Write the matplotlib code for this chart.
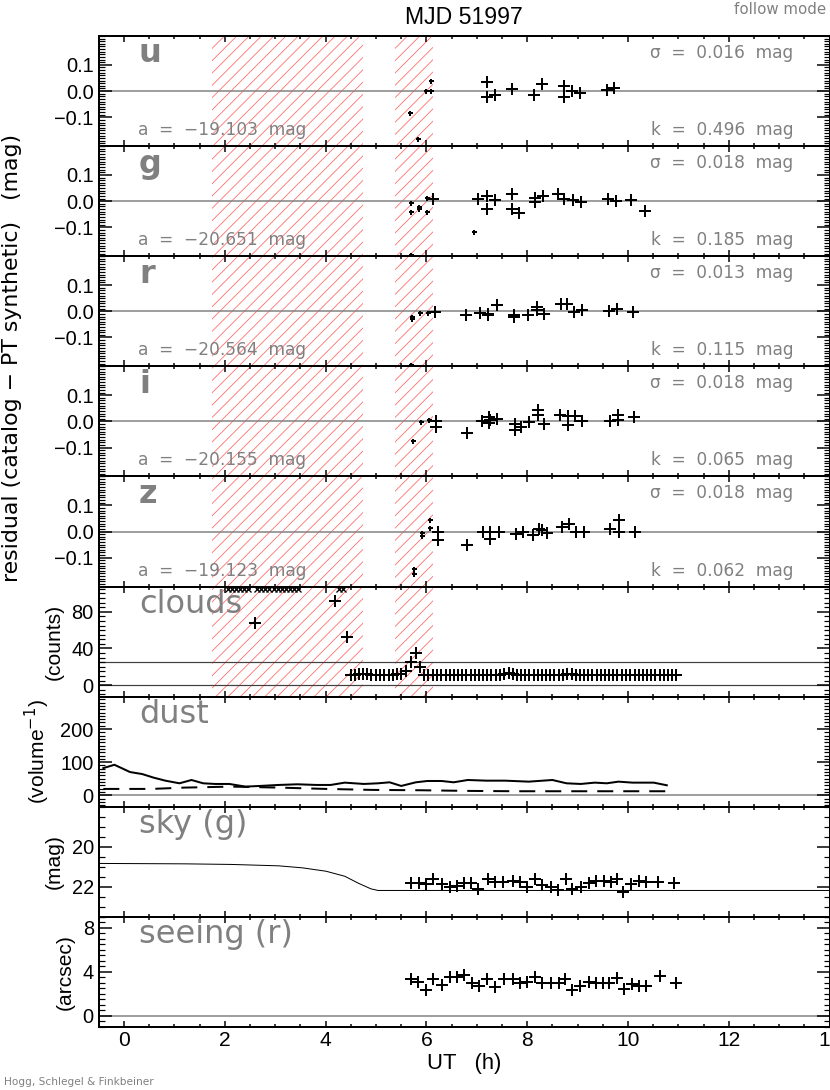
import matplotlib

matplotlib.use("Agg")
import matplotlib.pyplot as plt
import numpy as np
from matplotlib.collections import LineCollection
from matplotlib.patches import Rectangle
from matplotlib.ticker import FixedLocator, MultipleLocator

plt.rcParams["font.family"] = ["Liberation Sans", "DejaVu Sans"]
plt.rcParams["axes.unicode_minus"] = True

GRAY = "#808080"
HATCH = "#ff6a6a"

# bad-weather (hatched) intervals, UT hours
bad_spans = [(1.75, 4.75), (5.38, 6.13)]

# photometric residuals per band
bands = ["u", "g", "r", "i", "z"]
a_vals = ["\u221219.103", "\u221220.651", "\u221220.564", "\u221220.155", "\u221219.123"]
sigma_vals = ["0.016", "0.018", "0.013", "0.018", "0.018"]
k_vals = ["0.496", "0.185", "0.115", "0.065", "0.062"]

u_t = [7.20, 7.20, 7.37, 7.69, 8.14, 8.30, 8.73, 8.73, 8.88, 9.05, 9.59, 9.72]
u_v = [0.035, -0.024, -0.014, 0.006, -0.014, 0.026, 0.019, -0.021, 0.001, -0.009, 0.004, 0.010]
u_bad_t = [5.67, 5.83, 5.99, 6.10, 6.10]
u_bad_v = [-0.082, -0.181, 0.0, 0.0, 0.039]

g_t = [6.13, 7.03, 7.20, 7.20, 7.37, 7.70, 7.70, 7.84, 8.16, 8.16, 8.31, 8.62, 8.73, 8.90,
       9.06, 9.61, 9.76, 10.05, 10.33]
g_v = [0.010, 0.0075, 0.020, -0.030, 0.004, 0.029, -0.028, -0.044, -0.005, 0.013, 0.019,
       0.026, 0.010, 0.003, -0.003, 0.0075, 0.0, 0.004, -0.038]
g_bad_t = [5.70, 5.70, 5.86, 5.86, 6.02, 6.02, 6.94, 5.70]
g_bad_v = [-0.006, -0.040, -0.021, -0.031, -0.040, 0.013, -0.116, -0.205]

r_t = [6.17, 6.79, 7.06, 7.23, 7.23, 7.41, 7.74, 7.74, 8.01, 8.19, 8.19, 8.33, 8.68, 8.78,
       8.92, 9.08, 9.62, 9.79, 10.09]
r_v = [-0.004, -0.013, -0.006, -0.009, -0.015, 0.023, -0.015, -0.020, -0.013, 0.016, 0.006,
       -0.011, 0.029, 0.026, -0.003, 0.004, 0.001, 0.010, -0.004]
r_bad_t = [5.71, 5.71, 5.87, 6.03, 5.70]
r_bad_v = [-0.021, -0.031, -0.006, -0.006, -0.205]

i_t = [6.19, 6.19, 6.80, 7.10, 7.24, 7.24, 7.27, 7.41, 7.76, 7.76, 7.88, 8.04, 8.22, 8.22,
       8.34, 8.66, 8.80, 8.80, 8.94, 9.09, 9.64, 9.80, 9.80, 10.11]
i_v = [0.0, -0.021, -0.044, 0.0, 0.016, -0.005, 0.004, 0.010, -0.009, -0.031, -0.021, -0.003,
       0.044, 0.026, -0.011, 0.026, 0.020, -0.015, 0.020, 0.001, 0.0, 0.025, 0.006, 0.016]
i_bad_t = [5.74, 5.89, 6.06]
i_bad_v = [-0.075, -0.003, 0.006]

z_t = [6.24, 6.24, 6.81, 7.13, 7.26, 7.27, 7.44, 7.77, 7.91, 8.11, 8.24, 8.29, 8.39, 8.70,
       8.83, 8.96, 9.13, 9.64, 9.82, 9.82, 10.14]
z_v = [0.0, -0.034, -0.053, -0.003, -0.003, -0.030, -0.003, -0.009, 0.0, -0.015, 0.010, 0.004,
       -0.005, 0.016, 0.029, 0.0, 0.0, 0.010, 0.044, -0.003, 0.0]
z_bad_t = [5.91, 5.91, 6.07, 6.07, 5.76, 5.76]
z_bad_v = [-0.006, -0.019, 0.044, 0.014, -0.142, -0.162]

# clouds (counts); saturated readings sit above the axis top
cloud_sat_t = [2.06, 2.14, 2.22, 2.30, 2.38, 2.47, 2.64, 2.72, 2.80, 2.88, 2.97, 3.05, 3.13,
               3.21, 3.30, 3.38, 3.46, 4.27, 4.34]
cloud_sat_v = [105] * len(cloud_sat_t)
cloud_t = [2.59, 4.19, 4.42,
           4.50, 4.58, 4.66, 4.75, 4.83, 4.91, 5.00, 5.08, 5.16, 5.25, 5.33, 5.41, 5.50,
           5.60, 5.69, 5.79, 5.87,
           5.96, 6.04, 6.13, 6.21, 6.29, 6.38, 6.46, 6.54, 6.63, 6.71, 6.79, 6.88, 6.96,
           7.04, 7.13, 7.21, 7.29, 7.38, 7.46, 7.54, 7.63, 7.71, 7.79, 7.88, 7.96, 8.04,
           8.13, 8.21, 8.29, 8.38, 8.46, 8.54, 8.63, 8.71, 8.79, 8.88, 8.96, 9.04, 9.13,
           9.21, 9.29, 9.38, 9.46, 9.54, 9.63, 9.71, 9.79, 9.88, 9.96, 10.04, 10.13, 10.21,
           10.29, 10.38, 10.46, 10.54, 10.63, 10.71, 10.79, 10.88, 10.96]
cloud_v = [67.6, 92, 52,
           11, 11, 12, 12, 12, 11, 11, 11, 11, 11, 11, 12, 12,
           15.7, 25.6, 35.6, 20,
           11, 11, 11, 11, 11, 11, 11, 11, 11, 11, 11, 11, 11,
           11, 11, 11, 11, 11, 11, 12, 13.5, 12, 11, 11, 11, 11,
           11, 11, 11, 11, 11, 11, 11, 11, 12, 12.5, 11, 11, 11,
           11, 11, 11, 11, 11, 11, 11, 11, 11, 11, 11, 11, 11,
           11, 11, 11, 11, 11, 11, 11, 11, 11]
cloud_lines = [0, 25]

# dust (per volume)
dust_t = [-0.41, -0.19, 0.12, 0.36, 0.59, 0.82, 1.10, 1.34, 1.57, 1.81, 2.09, 2.41, 2.70,
          3.07, 3.44, 3.82, 4.10, 4.38, 4.76, 5.04, 5.27, 5.50, 5.79, 6.02, 6.30, 6.54,
          6.82, 7.19, 7.56, 8.03, 8.50, 8.78, 9.06, 9.34, 9.58, 9.81, 10.09, 10.51, 10.77]
dust_v = [82, 92, 70, 64, 53, 44, 36, 46, 36, 34, 34, 26, 28, 31, 33, 31, 31, 38, 34, 36,
          39, 28, 39, 43, 43, 39, 46, 44, 44, 41, 46, 36, 34, 38, 36, 41, 38, 38, 30]
dust2_t = [-0.41, 0.55, 1.20, 2.13, 3.07, 4.01, 4.94, 5.88, 6.82, 7.75, 8.69, 9.62, 10.77]
dust2_v = [19, 19, 23, 26, 23, 19, 16, 15, 13, 12, 12, 12, 12]

# sky brightness, g band (mag)
sky_model_t = [-0.5, 1.20, 2.13, 3.07, 3.54, 4.01, 4.38, 4.66, 4.90, 5.04, 14.0]
sky_model_v = [20.83, 20.85, 20.88, 20.95, 21.05, 21.22, 21.47, 21.83, 22.10, 22.18, 22.18]
sky_t = [5.69, 5.85, 6.00, 6.14, 6.30, 6.46, 6.61, 6.75, 6.89, 7.03, 7.22, 7.36, 7.52, 7.71,
         7.85, 7.99, 8.15, 8.30, 8.47, 8.62, 8.76, 8.89, 9.06, 9.22, 9.37, 9.53, 9.67, 9.79,
         9.91, 10.05, 10.21, 10.35, 10.59, 10.92]
sky_v = [21.83, 21.83, 21.86, 21.61, 21.86, 22.03, 21.94, 21.83, 21.83, 22.13, 21.61, 21.78,
         21.78, 21.69, 21.78, 22.03, 21.61, 21.91, 22.03, 22.17, 21.61, 22.13, 22.03, 21.83,
         21.69, 21.69, 21.78, 21.61, 22.25, 21.86, 21.69, 21.74, 21.74, 21.83]

# seeing, r band (arcsec)
see_t = [5.70, 5.84, 6.00, 6.14, 6.30, 6.47, 6.61, 6.75, 6.91, 7.05, 7.20, 7.36, 7.53, 7.71,
         7.85, 7.99, 8.16, 8.30, 8.47, 8.63, 8.75, 8.89, 9.04, 9.22, 9.36, 9.50, 9.62, 9.78,
         9.92, 10.07, 10.21, 10.35, 10.64, 10.95]
see_v = [3.36, 3.12, 2.36, 3.36, 2.82, 3.58, 3.58, 3.73, 3.03, 2.73, 3.36, 2.60, 3.36, 3.36,
         3.03, 3.12, 3.58, 2.97, 2.97, 2.97, 3.33, 2.36, 2.73, 3.06, 3.03, 3.03, 3.03, 3.42,
         2.42, 2.88, 2.73, 2.73, 3.64, 2.97]

resid = {
    "u": (u_t, u_v, u_bad_t, u_bad_v),
    "g": (g_t, g_v, g_bad_t, g_bad_v),
    "r": (r_t, r_v, r_bad_t, r_bad_v),
    "i": (i_t, i_v, i_bad_t, i_bad_v),
    "z": (z_t, z_v, z_bad_t, z_bad_v),
}

W, H = 830, 1090
XLIM = (-0.5, 14)
fig = plt.figure(figsize=(W / 72, H / 72), dpi=72)

left_px, right_px = 98.8, 829.6
top_px, bot_px = 36, 1027
panel_h = (bot_px - top_px) / 9


def make_axes(k):
    y_top = top_px + k * panel_h
    return fig.add_axes([left_px / W, 1 - (y_top + panel_h) / H,
                         (right_px - left_px) / W, panel_h / H])


def style(ax, last=False):
    ax.set_xlim(*XLIM)
    ax.xaxis.set_major_locator(MultipleLocator(2))
    ax.xaxis.set_minor_locator(MultipleLocator(0.5))
    ax.tick_params(which="both", direction="in", top=True, right=True, width=1.5,
                   labelsize=21, colors="black")
    ax.tick_params(axis="x", which="major", length=6)
    ax.tick_params(axis="x", which="minor", length=3)
    ax.tick_params(axis="y", which="major", length=13)
    ax.tick_params(axis="y", which="minor", length=6, width=1.2)
    ax.tick_params(axis="y", labelsize=20, pad=5)
    for sp in ax.spines.values():
        sp.set_linewidth(2)
    if not last:
        ax.tick_params(axis="x", labelbottom=False)
    ax.set_facecolor("none")


def label(ax, text, bold=False):
    ax.text(0.055, 0.76, text, transform=ax.transAxes, ha="left", va="baseline",
            fontsize=32, color=GRAY, family="DejaVu Sans",
            weight="bold" if bold else "normal")


# hatching for the bad-weather spans, drawn in figure pixels so it runs
# continuously through the residual and cloud panels
hax = fig.add_axes([0, 0, 1, 1], zorder=-1)
hax.set_xlim(0, W)
hax.set_ylim(0, H)
hax.axis("off")
hatch_top = H - top_px
hatch_bot = H - (top_px + 6 * panel_h)
for x0, x1 in bad_spans:
    p0 = left_px + (x0 - XLIM[0]) / (XLIM[1] - XLIM[0]) * (right_px - left_px)
    p1 = left_px + (x1 - XLIM[0]) / (XLIM[1] - XLIM[0]) * (right_px - left_px)
    segs = [[(c, hatch_bot), (c + (hatch_top - hatch_bot), hatch_top)]
            for c in np.arange(p0 - (hatch_top - hatch_bot) - 12.3, p1 + 12.3, 12.3)]
    lc = LineCollection(segs, colors=HATCH, linewidths=0.8)
    clip = Rectangle((p0, hatch_bot), p1 - p0, hatch_top - hatch_bot,
                     transform=hax.transData)
    hax.add_collection(lc)
    lc.set_clip_path(clip)

for k, band in enumerate(bands):
    ax = make_axes(k)
    t, v, bt, bv = resid[band]
    ax.axhline(0, color=GRAY, lw=1.5, zorder=1)
    ax.plot(t, v, "+", color="black", ms=12, mew=2, zorder=3)
    ax.plot(bt, bv, "+", color="black", ms=5, mew=2, zorder=3)
    ax.set_ylim(-0.21, 0.21)
    ax.yaxis.set_major_locator(FixedLocator([-0.1, 0.0, 0.1]))
    ax.yaxis.set_minor_locator(MultipleLocator(0.01))
    style(ax)
    label(ax, band, bold=True)
    txt = dict(transform=ax.transAxes, fontsize=17, color=GRAY, family="DejaVu Sans",
               va="baseline")
    ax.text(0.95, 0.80, "\u03c3  =  " + sigma_vals[k] + "  mag", ha="right", **txt)
    ax.text(0.95, 0.10, "k  =  " + k_vals[k] + "  mag", ha="right", **txt)
    ax.text(0.054, 0.10, "a  =  " + a_vals[k] + "  mag", ha="left", **txt)

# clouds
ax = make_axes(5)
for yl in cloud_lines:
    ax.axhline(yl, color="0.25", lw=1.2, zorder=1)
ax.plot(cloud_t, cloud_v, "+", color="black", ms=12, mew=2, zorder=3)
ax.plot(cloud_sat_t, cloud_sat_v, "x", color="black", ms=6, mew=1.3, zorder=3)
ax.set_ylim(-12.5, 107.5)
ax.yaxis.set_major_locator(FixedLocator([0, 40, 80]))
ax.yaxis.set_minor_locator(MultipleLocator(5))
style(ax)
label(ax, "clouds")
ax.set_ylabel("(counts)", fontsize=21, labelpad=8)

# dust
ax = make_axes(6)
ax.axhline(0, color=GRAY, lw=1.5, zorder=1)
ax.plot(dust_t, dust_v, "-", color="black", lw=2)
ax.plot(dust2_t, dust2_v, "--", color="black", lw=2, dashes=(8, 5))
ax.set_ylim(-35, 298)
ax.yaxis.set_major_locator(FixedLocator([0, 100, 200]))
ax.yaxis.set_minor_locator(MultipleLocator(10))
style(ax)
label(ax, "dust")
ax.set_ylabel("(volume$^{-1}$)", fontsize=21, labelpad=8)

# sky
ax = make_axes(7)
ax.plot(sky_model_t, sky_model_v, "-", color="black", lw=1)
ax.plot(sky_t, sky_v, "+", color="black", ms=12, mew=2, zorder=3)
ax.set_ylim(23.5, 18.0)
ax.yaxis.set_major_locator(FixedLocator([20, 22]))
ax.yaxis.set_minor_locator(MultipleLocator(0.5))
style(ax)
label(ax, "sky (g)")
ax.set_ylabel("(mag)", fontsize=21, labelpad=8)

# seeing
ax = make_axes(8)
ax.axhline(0, color=GRAY, lw=1.5, zorder=1)
ax.plot(see_t, see_v, "+", color="black", ms=12, mew=2, zorder=3)
ax.set_ylim(-1, 9)
ax.yaxis.set_major_locator(FixedLocator([0, 4, 8]))
ax.yaxis.set_minor_locator(MultipleLocator(0.5))
style(ax, last=True)
label(ax, "seeing (r)")
ax.set_ylabel("(arcsec)", fontsize=21, labelpad=8)
ax.set_xlabel("UT   (h)", fontsize=22, labelpad=4)

fig.text(464 / W, 1 - 17 / H, "MJD 51997", ha="center", va="center", fontsize=23)
fig.text(826 / W, 1 - 10 / H, "follow mode", ha="right", va="center", fontsize=15,
         color=GRAY, family="DejaVu Sans")
fig.text(4 / W, 1 - 1082 / H, "Hogg, Schlegel & Finkbeiner", ha="left", va="center",
         fontsize=10.5, color=GRAY, family="DejaVu Sans")
fig.text(12 / W, 1 - 358 / H, "residual (catalog \u2212 PT synthetic)   (mag)",
         rotation=90, ha="center", va="center", fontsize=22, family="DejaVu Sans")

fig.savefig("out.png", dpi=72)
